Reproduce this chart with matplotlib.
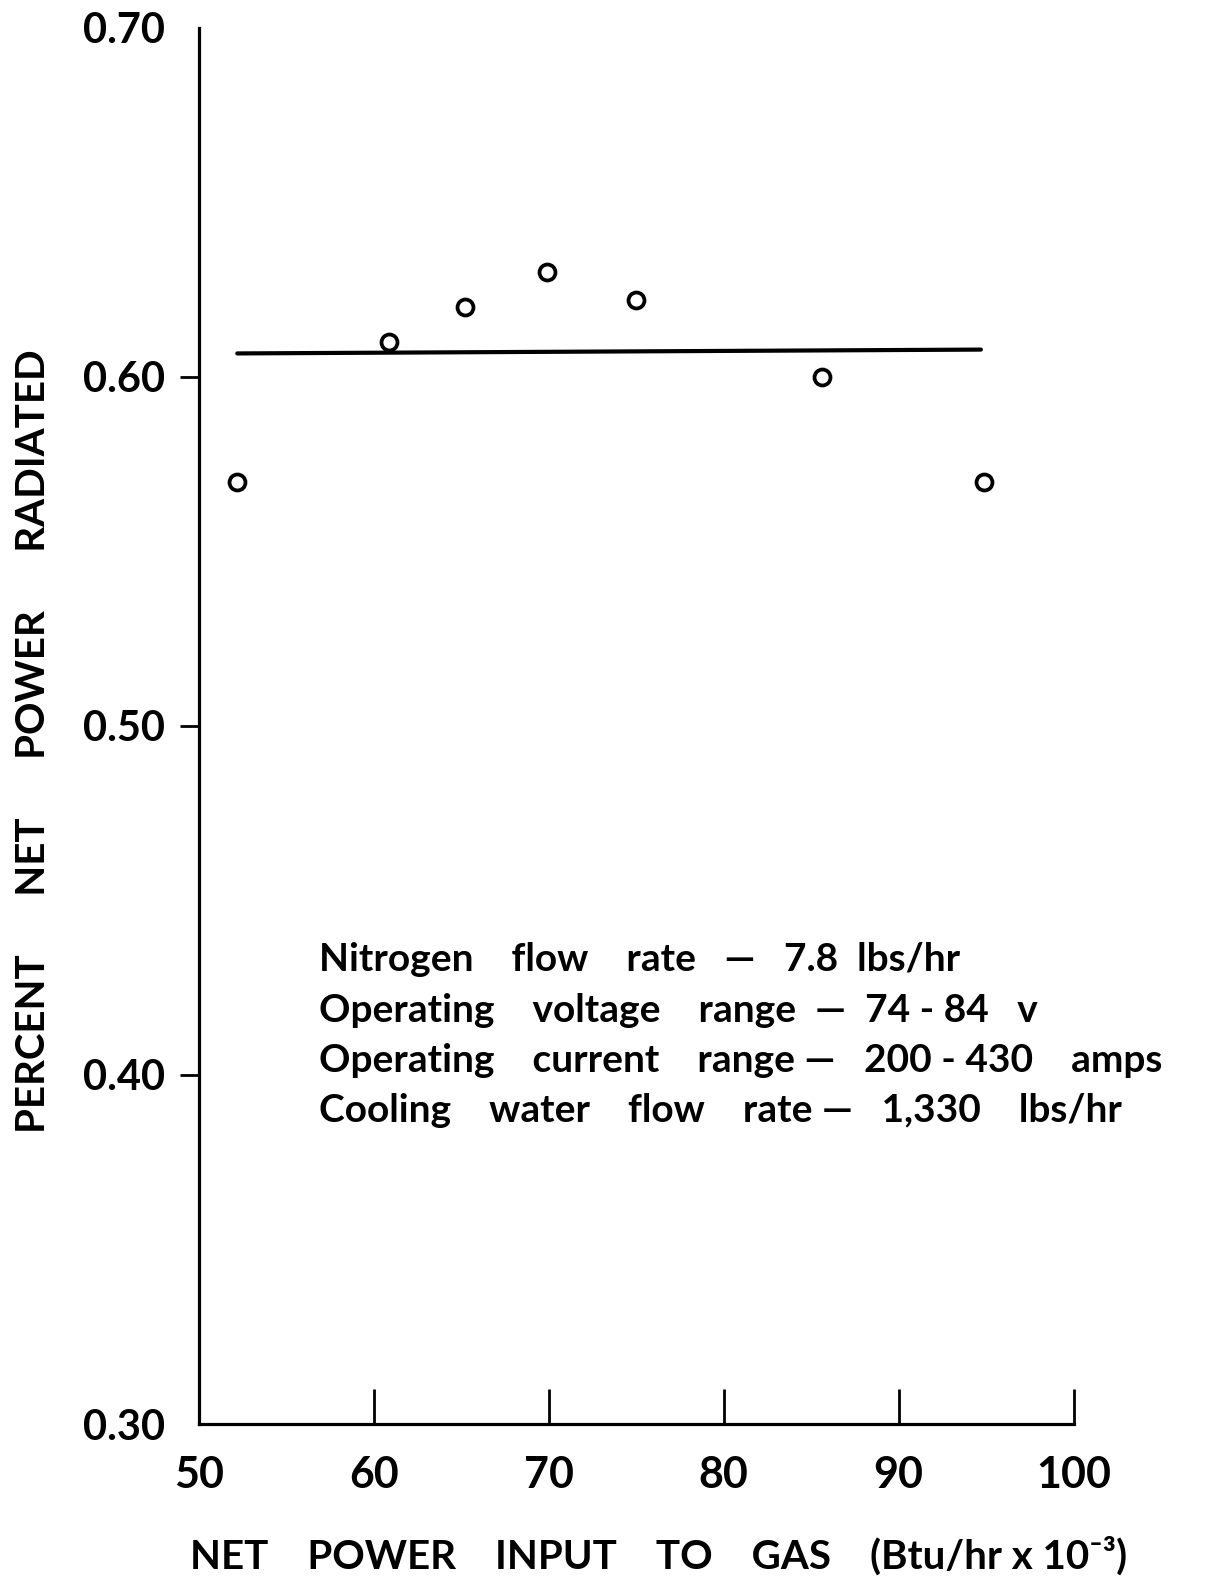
import matplotlib

matplotlib.use("Agg")
import matplotlib.pyplot as plt
from matplotlib.ticker import FixedLocator

# readings
power_in = [52.2, 60.9, 65.2, 69.9, 75.0, 85.6, 94.9]
pct_radiated = [0.570, 0.610, 0.620, 0.630, 0.622, 0.600, 0.570]
fit_x = [52.2, 94.7]
fit_y = [0.6067, 0.6078]

x_ticks = [50, 60, 70, 80, 90, 100]
y_ticks = [0.30, 0.40, 0.50, 0.60, 0.70]
y_tick_labels = ["0.30", "0.40", "0.50", "0.60", "0.70"]

notes = [
    "Nitrogen    flow    rate   —   7.8  lbs/hr",
    "Operating    voltage    range  —  74 - 84   v",
    "Operating    current    range —   200 - 430    amps",
    "Cooling    water    flow    rate —   1,330    lbs/hr",
]

plt.rcParams["font.family"] = ["Lato", "DejaVu Sans"]
plt.rcParams["font.weight"] = "bold"

fig = plt.figure(figsize=(12.27, 15.76), dpi=100)
ax = fig.add_axes([0.162, 0.0964, 0.713, 0.886])

ax.plot(fit_x, fit_y, color="black", lw=3, solid_capstyle="round")
ax.plot(power_in, pct_radiated, "o", ms=11.5, mfc="white", mec="black", mew=2.7)

ax.set_xlim(50, 100)
ax.set_ylim(0.30, 0.70)
ax.spines["top"].set_visible(False)
ax.spines["right"].set_visible(False)
for s in ("left", "bottom"):
    ax.spines[s].set_linewidth(2.3)

ax.set_xticks(x_ticks)
ax.set_xticklabels([str(v) for v in x_ticks])
ax.set_yticks(y_ticks)
ax.set_yticklabels(y_tick_labels)
ax.tick_params(axis="x", direction="in", length=25, width=2, pad=22, labelsize=31)
ax.tick_params(axis="y", direction="out", length=14, width=2, pad=10, labelsize=30)
ax.get_xticklines()[0].set_visible(False)
yt = ax.yaxis.get_major_ticks()
yt[0].tick1line.set_visible(False)
yt[-1].tick1line.set_visible(False)

# the 0.70 mark is drawn inward, like a short cap on the axis
ax.yaxis.set_minor_locator(FixedLocator([0.70]))
ax.tick_params(axis="y", which="minor", direction="in", length=23, width=2.3)

fig.text(0.537, 0.013, "NET    POWER    INPUT    TO    GAS    (Btu/hr x 10⁻³)",
         fontsize=29, fontweight="bold", ha="center", va="center")
fig.text(0.027, 0.53, "PERCENT      NET      POWER      RADIATED",
         fontsize=29, fontweight="bold", ha="center", va="center", rotation=90)

ax.text(0.137, 0.345, "\n".join(notes), transform=ax.transAxes, fontsize=28,
        linespacing=1.53, va="top", ha="left")

fig.savefig("out.png", dpi=100)
